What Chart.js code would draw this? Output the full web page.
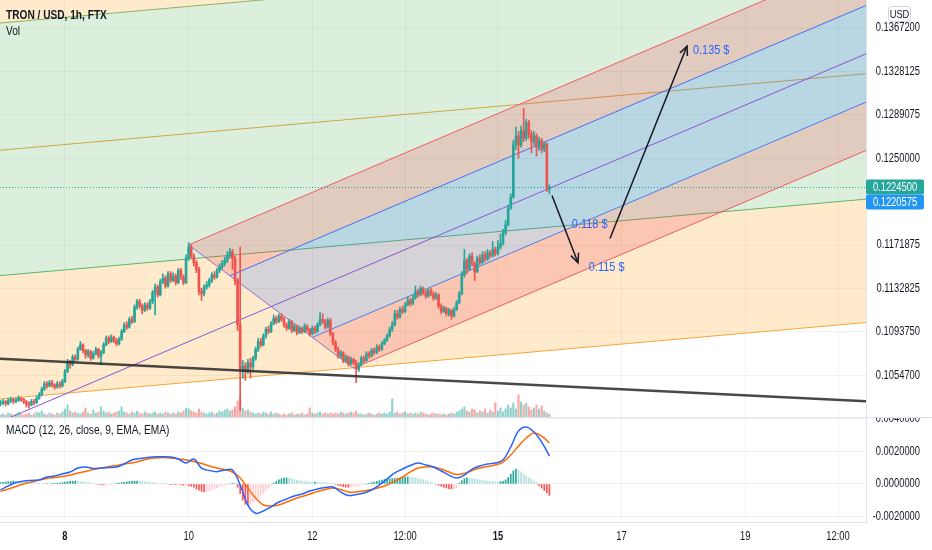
<!DOCTYPE html>
<html>
<head>
<meta charset="utf-8">
<script src="https://cdn.jsdelivr.net/npm/chart.js@4.4.1/dist/chart.umd.min.js"></script>
<style>
  html, body { margin: 0; padding: 0; background: #fff; }
  #wrap { position: relative; width: 932px; height: 550px; overflow: hidden; }
  #priceChart { position: absolute; left: 0; top: 0; }
  #macdChart { position: absolute; left: 0; top: 417px; }
</style>
</head>
<body>
<div id="wrap">
  <canvas id="priceChart" width="932" height="417"></canvas>
  <canvas id="macdChart" width="932" height="133"></canvas>
</div>
<script>
// ---- data: TRX/USD hourly candles, first bar is hour -25 (hour 0 = day 8, 00:00) ----
const START_HOUR = -25;
const firstOpen = 0.1029;
const closes = [
  0.1030,0.1031,0.1029,0.1032,0.1033,0.1031,0.1032,0.1034,0.1033,0.1031,
  0.1029,0.1028,0.1031,0.1030,0.1034,0.1037,0.1042,0.1047,0.1045,0.1048,
  0.1046,0.1044,0.1047,0.1045,0.1049,0.1058,0.1066,0.1064,0.1071,0.1069,
  0.1078,0.1082,0.1077,0.1073,0.1076,0.1070,0.1074,0.1078,0.1072,0.1075,
  0.1082,0.1088,0.1085,0.1089,0.1086,0.1083,0.1087,0.1094,0.1100,0.1098,
  0.1105,0.1103,0.1116,0.1121,0.1117,0.1113,0.1118,0.1115,0.1121,0.1129,
  0.1134,0.1127,0.1139,0.1142,0.1135,0.1146,0.1140,0.1144,0.1138,0.1149,
  0.1143,0.1138,0.1160,0.1170,0.1162,0.1156,0.1150,0.1130,0.1128,0.1134,
  0.1136,0.1140,0.1145,0.1143,0.1149,0.1152,0.1155,0.1158,0.1162,0.1166,
  0.1160,0.1140,0.1100,0.1060,0.1063,0.1058,0.1066,0.1062,0.1070,0.1078,
  0.1085,0.1082,0.1090,0.1096,0.1094,0.1101,0.1106,0.1103,0.1108,0.1105,
  0.1100,0.1097,0.1103,0.1095,0.1099,0.1093,0.1097,0.1094,0.1099,0.1096,
  0.1092,0.1097,0.1094,0.1100,0.1105,0.1103,0.1098,0.1104,0.1092,0.1084,
  0.1078,0.1072,0.1075,0.1068,0.1071,0.1065,0.1069,0.1066,0.1060,0.1064,
  0.1070,0.1068,0.1074,0.1072,0.1077,0.1075,0.1080,0.1078,0.1083,0.1086,
  0.1090,0.1096,0.1100,0.1110,0.1107,0.1114,0.1112,0.1118,0.1122,0.1119,
  0.1124,0.1130,0.1127,0.1133,0.1129,0.1126,0.1131,0.1128,0.1124,0.1127,
  0.1117,0.1112,0.1115,0.1110,0.1113,0.1108,0.1114,0.1120,0.1128,0.1145,
  0.1158,0.1150,0.1162,0.1155,0.1148,0.1160,0.1156,0.1163,0.1159,0.1165,
  0.1162,0.1168,0.1164,0.1170,0.1173,0.1183,0.1190,0.1205,0.1215,0.1262,
  0.1270,0.1262,0.1275,0.1268,0.1282,0.1272,0.1265,0.1270,0.1260,0.1266,
  0.1258,0.1263,0.1222,0.12245
];
const highs = [
  0.1032,0.1033,0.1032,0.1034,0.1035,0.1034,0.1034,0.1036,0.1035,0.1034,
  0.1032,0.1031,0.1033,0.1033,0.1036,0.1039,0.1044,0.1049,0.1049,0.1050,
  0.1050,0.1047,0.1049,0.1049,0.1051,0.1060,0.1069,0.1068,0.1073,0.1073,
  0.1080,0.1085,0.1083,0.1078,0.1078,0.1077,0.1076,0.1080,0.1079,0.1077,
  0.1084,0.1090,0.1090,0.1091,0.1090,0.1088,0.1089,0.1096,0.1102,0.1103,
  0.1107,0.1108,0.1118,0.1123,0.1123,0.1119,0.1120,0.1120,0.1123,0.1131,
  0.1137,0.1136,0.1141,0.1146,0.1144,0.1148,0.1148,0.1147,0.1146,0.1151,
  0.1151,0.1145,0.1163,0.1174,0.1172,0.1164,0.1158,0.1152,0.1133,0.1136,
  0.1139,0.1142,0.1147,0.1148,0.1151,0.1155,0.1158,0.1161,0.1166,0.1169,
  0.1168,0.1162,0.1142,0.1170,0.1068,0.1066,0.1069,0.1070,0.1072,0.1080,
  0.1088,0.1088,0.1092,0.1098,0.1099,0.1103,0.1109,0.1108,0.1110,0.1110,
  0.1107,0.1102,0.1105,0.1104,0.1101,0.1100,0.1099,0.1098,0.1101,0.1100,
  0.1097,0.1099,0.1099,0.1102,0.1111,0.1110,0.1105,0.1106,0.1106,0.1093,
  0.1086,0.1080,0.1077,0.1076,0.1073,0.1072,0.1071,0.1070,0.1068,0.1066,
  0.1072,0.1072,0.1076,0.1076,0.1079,0.1079,0.1082,0.1082,0.1085,0.1088,
  0.1092,0.1098,0.1103,0.1113,0.1113,0.1116,0.1117,0.1120,0.1125,0.1124,
  0.1127,0.1135,0.1132,0.1135,0.1134,0.1131,0.1133,0.1133,0.1130,0.1129,
  0.1128,0.1119,0.1117,0.1116,0.1115,0.1114,0.1116,0.1122,0.1130,0.1148,
  0.1168,0.1160,0.1164,0.1165,0.1157,0.1162,0.1163,0.1166,0.1166,0.1168,
  0.1167,0.1175,0.1170,0.1176,0.1182,0.1186,0.1194,0.1208,0.1218,0.1266,
  0.1278,0.1274,0.1279,0.1295,0.1285,0.1284,0.1275,0.1274,0.1272,0.1269,
  0.1268,0.1265,0.1264,0.1226
];
const lows = [
  0.1027,0.1028,0.1027,0.1028,0.1030,0.1029,0.1030,0.1031,0.1031,0.1029,
  0.1026,0.1025,0.1027,0.1028,0.1029,0.1033,0.1036,0.1041,0.1043,0.1044,
  0.1044,0.1042,0.1043,0.1043,0.1044,0.1048,0.1057,0.1061,0.1063,0.1067,
  0.1068,0.1077,0.1075,0.1070,0.1071,0.1068,0.1069,0.1073,0.1070,0.1064,
  0.1074,0.1081,0.1083,0.1084,0.1084,0.1081,0.1082,0.1086,0.1093,0.1096,
  0.1097,0.1101,0.1102,0.1114,0.1115,0.1110,0.1112,0.1113,0.1114,0.1119,
  0.1109,0.1125,0.1126,0.1137,0.1133,0.1134,0.1138,0.1139,0.1136,0.1137,
  0.1141,0.1136,0.1137,0.1158,0.1160,0.1153,0.1147,0.1127,0.1122,0.1126,
  0.1132,0.1134,0.1138,0.1141,0.1142,0.1147,0.1150,0.1153,0.1156,0.1160,
  0.1150,0.1136,0.1095,0.1023,0.1052,0.1050,0.1056,0.1052,0.1060,0.1068,
  0.1076,0.1080,0.1081,0.1088,0.1092,0.1093,0.1100,0.1101,0.1102,0.1103,
  0.1098,0.1095,0.1096,0.1093,0.1094,0.1091,0.1092,0.1092,0.1093,0.1094,
  0.1090,0.1091,0.1092,0.1093,0.1099,0.1101,0.1096,0.1097,0.1090,0.1082,
  0.1076,0.1070,0.1070,0.1066,0.1066,0.1063,0.1064,0.1064,0.1048,0.1058,
  0.1063,0.1066,0.1067,0.1070,0.1071,0.1073,0.1074,0.1076,0.1077,0.1082,
  0.1085,0.1089,0.1094,0.1099,0.1105,0.1106,0.1110,0.1111,0.1117,0.1117,
  0.1118,0.1123,0.1125,0.1126,0.1127,0.1124,0.1125,0.1126,0.1122,0.1123,
  0.1115,0.1110,0.1111,0.1108,0.1108,0.1105,0.1107,0.1113,0.1119,0.1127,
  0.1143,0.1146,0.1149,0.1153,0.1140,0.1147,0.1154,0.1155,0.1157,0.1158,
  0.1160,0.1161,0.1162,0.1163,0.1168,0.1172,0.1181,0.1189,0.1204,0.1214,
  0.1258,0.1250,0.1260,0.1265,0.1266,0.1268,0.1255,0.1262,0.1252,0.1257,
  0.1255,0.1256,0.1220,0.1218
];
// volume, millions TRX
const volumes = [
  2,3,2,4,3,2,3,5,3,2,  3,4,2,3,5,4,6,3,2,4,  3,2,4,3,5,8,12,6,4,5,
  4,3,5,9,4,3,7,4,5,10,  6,4,5,3,4,5,6,10,5,4,  3,5,4,6,4,3,5,4,3,4,
  5,3,4,3,5,4,3,4,3,5,  4,6,9,8,6,5,4,8,5,4,  3,4,5,3,4,6,5,7,8,6,
  7,10,16,20,9,6,7,5,4,3,  4,3,5,4,3,5,3,4,3,2,  3,2,3,4,2,3,3,4,2,3,
  9,4,3,4,5,3,4,3,4,3,  4,3,5,4,3,4,5,4,6,3,  3,2,3,4,3,2,3,4,3,4,
  3,5,18,4,5,3,4,5,3,4,  3,4,3,5,4,3,2,3,4,3,  3,2,3,2,3,4,3,5,6,8,
  10,6,5,8,7,4,6,5,8,4,  7,5,14,6,9,5,8,12,9,14,  8,22,15,12,14,10,7,9,12,8,
  11,6,4,3
];
// MACD (12, 26, 9), units of 1e-5; lines sampled every 3rd bar, histogram every bar
const MACD_UNIT = 1e-5;
const macdLine = [
  -37,-12,9,18,22,25,43,49,62,74, 98,105,95,98,101,105,123,148,157,163,
  168,168,166,154,129,154,98,83,76,86, 86,-6,-130,-180,-166,-141,-111,-92,-74,-62,
  -43,-31,-22,-18,-49,-71,-65,-55,-37,-6, 31,68,92,114,129,117,105,80,55,37,
  55,92,111,123,129,148,228,326,351,320, 258,172
];
const signalLine = [
  -46,-31,-15,0,12,25,34,40,46,55, 68,77,89,98,108,114,123,129,141,154,
  160,163,160,154,148,138,126,111,98,89, 74,37,-25,-86,-129,-135,-129,-111,-92,-77,
  -62,-46,-34,-25,-34,-49,-49,-43,-34,-22, -6,18,43,74,98,105,105,92,74,58,
  65,83,98,108,117,135,178,234,283,314, 295,252
];
const macdHist = [
  8,10,12,15,16,18,17,15,14,12,  12,10,9,8,6,5,4,3,3,2,  2,4,5,6,8,12,14,16,17,18,
  16,15,13,12,8,5,3,0,-3,-5,  -6,-4,-3,-2,-1,2,5,8,10,13,  15,17,18,18,17,15,13,12,10,9,
  8,4,3,2,1,0,-2,-3,-4,-4,  -6,-8,-7,-10,-14,-20,-30,-38,-45,-48,  -46,-42,-35,-28,-22,-16,-10,-6,-3,0,
  2,3,-20,-60,-100,-125,-130,-125,-115,-100,  -85,-70,-55,-40,-25,-10,5,15,25,32,  36,38,36,32,28,24,20,17,15,14,
  13,12,12,11,10,9,8,6,4,2,  -3,-8,-12,-16,-18,-20,-18,-16,-13,-10,  -7,-4,0,4,8,12,16,20,24,28,
  30,32,33,34,36,38,40,42,43,42,  40,37,33,29,25,20,15,10,5,-3,  -8,-14,-20,-25,-28,-30,-28,-22,5,20,
  32,38,36,33,30,27,25,22,20,18,  16,15,14,13,14,16,25,40,60,80,  92,86,75,62,50,38,28,18,10,-10,
  -25,-40,-55,-70
];
const priceTicks = [0.13672, 0.1328125, 0.1289075, 0.125, 0.1171875, 0.1132825, 0.109375, 0.10547];
const macdTicks = [-0.002, 0, 0.002, 0.004];
const xTickHours = [0, 48, 96, 132, 168, 216, 264, 300];
const xTickLabels = ['8', '10', '12', '12:00', '15', '17', '19', '12:00'];
const boldTickLabels = ['8', '15'];

// drawings, all in (hour, price)
const channelLevels = [0.13769, 0.12624, 0.11495, 0.10384]; // price at hour 0
const channelSlope = 0.0000205;                               // price per hour
const channelLabel = 0.1220575;
const pitchHandle = [-25, 0.1013];
const pitchTop = [48, 0.1172];
const pitchBottom = [112, 0.1061];
const pitchLevels = [0, 0.25, 0.5, 0.75, 1];
const trendLine = [[-25.2, 0.10694], [308.5, 0.10315]];
const arrows = [
  [[189, 0.12165], [199.1, 0.1156]],
  [[211.5, 0.11777], [241.4, 0.1351]]
];
const notes = [
  ['0.135 $', 243.7, 0.13474],
  ['0.118 $', 196.7, 0.11903],
  ['0.115 $', 203.3, 0.11515]
];

// ---- view ----
const X_MIN = -25.2, X_MAX = 310.85;
const Y_MIN = 0.101706, Y_MAX = 0.13925;
const M_MIN = -0.0023385, M_MAX = 0.0040615;
const FONT = "'Liberation Sans', Arial, sans-serif";
const NARROW = 0.78;   // the screenshot's text is horizontally squeezed
const TEXT = '#131722';
const GRID = 'rgba(42,46,57,0.06)';
const AXIS_LINE = '#e0e3eb';
const UP = '#26a69a', DOWN = '#ef5350';

Chart.defaults.font.family = FONT;
Chart.defaults.font.size = 12;
Chart.defaults.color = TEXT;

const opens = closes.map((c, i) => i === 0 ? firstOpen : closes[i - 1]);
const isUp = closes.map((c, i) => c >= opens[i]);
const hourOf = i => START_HOUR + i;

function narrowText(ctx, text, x, y, align, font, color, sx) {
  ctx.save();
  ctx.font = font;
  ctx.fillStyle = color;
  ctx.textAlign = align;
  ctx.textBaseline = 'middle';
  ctx.translate(x, y);
  ctx.scale(sx || NARROW, 1);
  ctx.fillText(text, 0, 0);
  ctx.restore();
}

function drawRightTicks(chart, scale) {
  const { ctx } = chart;
  ctx.save();
  ctx.beginPath();
  ctx.rect(scale.left, 0, scale.width, chart.height);
  ctx.clip();
  scale.ticks.forEach(t => {
    narrowText(ctx, t.value.toFixed(7), scale.left + 54, scale.getPixelForValue(t.value), 'right', `12px ${FONT}`, TEXT);
  });
  ctx.restore();
}

const priceDrawings = {
  id: 'priceDrawings',
  beforeDatasetsDraw(chart) {
    const { ctx, chartArea: a, scales: { x, y } } = chart;
    const px = h => x.getPixelForValue(h);
    const py = p => y.getPixelForValue(p);
    const h0 = X_MIN - 10, h1 = X_MAX + 10;
    ctx.save();
    ctx.beginPath();
    ctx.rect(a.left, a.top, a.right - a.left, a.bottom - a.top);
    ctx.clip();

    // parallel channel
    const chY = (lvl, h) => py(lvl + channelSlope * h);
    const band = (upper, lower, color) => {
      ctx.beginPath();
      if (upper === null) { ctx.moveTo(px(h0), a.top - 20); ctx.lineTo(px(h1), a.top - 20); }
      else { ctx.moveTo(px(h0), chY(upper, h0)); ctx.lineTo(px(h1), chY(upper, h1)); }
      ctx.lineTo(px(h1), chY(lower, h1));
      ctx.lineTo(px(h0), chY(lower, h0));
      ctx.closePath();
      ctx.fillStyle = color;
      ctx.fill();
    };
    band(null, channelLevels[0], 'rgba(255,152,0,0.2)');
    band(channelLevels[0], channelLevels[2], 'rgba(76,175,80,0.2)');
    band(channelLevels[2], channelLevels[3], 'rgba(255,152,0,0.2)');
    const chColors = ['#8db360', '#d2a443', '#5fb36a', '#f7a53a'];
    channelLevels.forEach((lvl, i) => {
      ctx.beginPath();
      ctx.moveTo(px(h0), chY(lvl, h0));
      ctx.lineTo(px(h1), chY(lvl, h1));
      ctx.strokeStyle = chColors[i];
      ctx.lineWidth = 1;
      ctx.stroke();
    });

    // pitchfork
    const mh = (pitchTop[0] + pitchBottom[0]) / 2, mp = (pitchTop[1] + pitchBottom[1]) / 2;
    const slope = (mp - pitchHandle[1]) / (mh - pitchHandle[0]);
    const start = t => [pitchTop[0] + t * (pitchBottom[0] - pitchTop[0]), pitchTop[1] + t * (pitchBottom[1] - pitchTop[1])];
    const endOf = t => { const s = start(t); return [h1, s[1] + slope * (h1 - s[0])]; };
    const fills = ['rgba(242,54,69,0.2)', 'rgba(45,115,255,0.2)', 'rgba(45,115,255,0.2)', 'rgba(242,54,69,0.2)'];
    for (let k = 0; k < pitchLevels.length - 1; k++) {
      const s1 = start(pitchLevels[k]), e1 = endOf(pitchLevels[k]);
      const s2 = start(pitchLevels[k + 1]), e2 = endOf(pitchLevels[k + 1]);
      ctx.beginPath();
      ctx.moveTo(px(s1[0]), py(s1[1]));
      ctx.lineTo(px(e1[0]), py(e1[1]));
      ctx.lineTo(px(e2[0]), py(e2[1]));
      ctx.lineTo(px(s2[0]), py(s2[1]));
      ctx.closePath();
      ctx.fillStyle = fills[k];
      ctx.fill();
    }
    const lvlColors = ['#ef5b66', '#4a6cf0', '#8c52d6', '#4a7cf0', '#ef5b66'];
    pitchLevels.forEach((t, k) => {
      const s = t === 0.5 ? pitchHandle : start(t), e = endOf(t);
      ctx.beginPath();
      ctx.moveTo(px(s[0]), py(s[1]));
      ctx.lineTo(px(e[0]), py(e[1]));
      ctx.strokeStyle = lvlColors[k];
      ctx.lineWidth = 1;
      ctx.stroke();
    });
    ctx.beginPath();
    ctx.moveTo(px(pitchTop[0]), py(pitchTop[1]));
    ctx.lineTo(px(pitchBottom[0]), py(pitchBottom[1]));
    ctx.strokeStyle = '#9070c8';
    ctx.stroke();
    ctx.restore();
  },
  afterDatasetsDraw(chart) {
    const { ctx, chartArea: a, scales: { x, y } } = chart;
    const px = h => x.getPixelForValue(h);
    const py = p => y.getPixelForValue(p);
    ctx.save();
    ctx.beginPath();
    ctx.rect(a.left, a.top, a.right - a.left, a.bottom - a.top);
    ctx.clip();

    // trend line
    const [p1, p2] = trendLine;
    const tSlope = (p2[1] - p1[1]) / (p2[0] - p1[0]);
    ctx.beginPath();
    ctx.moveTo(px(X_MIN - 5), py(p1[1] + tSlope * (X_MIN - 5 - p1[0])));
    ctx.lineTo(px(X_MAX + 5), py(p1[1] + tSlope * (X_MAX + 5 - p1[0])));
    ctx.strokeStyle = 'rgba(40,40,40,0.85)';
    ctx.lineWidth = 2.5;
    ctx.stroke();

    // last price line
    const last = closes[closes.length - 1];
    ctx.beginPath();
    ctx.setLineDash([1, 2]);
    ctx.moveTo(a.left, Math.round(py(last)) + 0.5);
    ctx.lineTo(a.right, Math.round(py(last)) + 0.5);
    ctx.strokeStyle = UP;
    ctx.lineWidth = 1;
    ctx.stroke();
    ctx.setLineDash([]);

    // arrows
    ctx.strokeStyle = '#131722';
    ctx.lineWidth = 1.5;
    arrows.forEach(([s, e]) => {
      const x1 = px(s[0]), y1 = py(s[1]), x2 = px(e[0]), y2 = py(e[1]);
      ctx.beginPath(); ctx.moveTo(x1, y1); ctx.lineTo(x2, y2); ctx.stroke();
      const ang = Math.atan2(y2 - y1, x2 - x1), L = 10, w = 0.42;
      ctx.beginPath();
      ctx.moveTo(x2 - L * Math.cos(ang - w), y2 - L * Math.sin(ang - w));
      ctx.lineTo(x2, y2);
      ctx.lineTo(x2 - L * Math.cos(ang + w), y2 - L * Math.sin(ang + w));
      ctx.stroke();
    });

    // notes
    notes.forEach(([txt, h, p]) => narrowText(ctx, txt, px(h), py(p), 'left', `13px ${FONT}`, '#2962ff', 0.84));
    ctx.restore();
  },
  afterDraw(chart) {
    const { ctx, chartArea: a, scales: { y } } = chart;
    drawRightTicks(chart, y);
    ctx.save();
    // titles
    narrowText(ctx, 'TRON / USD, 1h, FTX', 6, 15, 'left', `bold 13px ${FONT}`, TEXT);
    narrowText(ctx, 'Vol', 6, 31, 'left', `13px ${FONT}`, TEXT);

    // USD badge
    ctx.strokeStyle = '#d1d4dc';
    ctx.lineWidth = 1;
    ctx.beginPath();
    ctx.roundRect(888.5, 6.5, 22, 15, 3);
    ctx.fillStyle = '#fff';
    ctx.fill();
    ctx.stroke();
    narrowText(ctx, 'USD', 899.5, 14.5, 'center', `11px ${FONT}`, TEXT, 0.85);

    // price labels
    const last = closes[closes.length - 1];
    const ly = Math.round(y.getPixelForValue(last));
    const label = (val, cy, bg) => {
      ctx.fillStyle = bg;
      ctx.beginPath();
      ctx.roundRect(a.right, cy - 7.5, 58, 15, 2);
      ctx.fill();
      narrowText(ctx, val.toFixed(7), a.right + 29, cy + 0.5, 'center', `12px ${FONT}`, '#fff');
    };
    label(last, ly, UP);
    label(channelLabel, ly + 15, '#2196f3');
    ctx.restore();
  }
};

const macdDecor = {
  id: 'macdDecor',
  afterDraw(chart) {
    const { ctx, chartArea: a, scales: { x, y } } = chart;
    drawRightTicks(chart, y);
    x.ticks.forEach((t, i) => {
      const lbl = xTickLabels[i];
      const bold = boldTickLabels.includes(lbl) ? 'bold ' : '';
      narrowText(ctx, lbl, x.getPixelForValue(t.value), a.bottom + 15, 'center', `${bold}12px ${FONT}`, TEXT);
    });
    ctx.save();
    ctx.strokeStyle = AXIS_LINE;
    ctx.lineWidth = 1;
    ctx.beginPath();
    ctx.moveTo(0, 0.5);
    ctx.lineTo(chart.width, 0.5);
    ctx.stroke();
    ctx.restore();
    narrowText(ctx, 'MACD (12, 26, close, 9, EMA, EMA)', 6, 13, 'left', `13px ${FONT}`, TEXT);
  }
};

new Chart(document.getElementById('priceChart'), {
  type: 'bar',
  data: {
    datasets: [
      {
        label: 'bodies', order: 0, grouped: false,
        data: closes.map((c, i) => ({ x: hourOf(i), y: [opens[i], c] })),
        backgroundColor: isUp.map(u => u ? UP : DOWN),
        barThickness: 2, maxBarThickness: 2, minBarLength: 1
      },
      {
        label: 'wicks', order: 1, grouped: false,
        data: closes.map((c, i) => ({ x: hourOf(i), y: [lows[i], highs[i]] })),
        backgroundColor: isUp.map(u => u ? UP : DOWN),
        barThickness: 1, maxBarThickness: 1
      },
      {
        label: 'Vol', order: 2, grouped: false, yAxisID: 'yv',
        data: volumes.map((v, i) => ({ x: hourOf(i), y: v })),
        backgroundColor: isUp.map(u => u ? 'rgba(38,166,154,0.5)' : 'rgba(239,83,80,0.5)'),
        barThickness: 1.5, maxBarThickness: 1.5
      }
    ]
  },
  options: {
    responsive: false, animation: false, events: [], devicePixelRatio: 1,
    layout: { padding: 0 },
    plugins: { legend: { display: false }, tooltip: { enabled: false } },
    scales: {
      x: {
        type: 'linear', min: X_MIN, max: X_MAX, offset: false,
        afterBuildTicks: s => { s.ticks = xTickHours.map(v => ({ value: v })); },
        afterFit: s => { s.height = 0; s.paddingLeft = 0; s.paddingRight = 0; },
        ticks: { display: false },
        grid: { color: GRID, drawTicks: false, offset: false },
        border: { display: false }
      },
      y: {
        position: 'right', min: Y_MIN, max: Y_MAX,
        afterBuildTicks: s => { s.ticks = priceTicks.map(v => ({ value: v })); },
        afterFit: s => { s.width = 66; s.paddingTop = 0; s.paddingBottom = 0; },
        ticks: { display: false },
        grid: { color: GRID, drawTicks: false },
        border: { color: AXIS_LINE }
      },
      yv: { display: false, min: 0, max: 416 }
    }
  },
  plugins: [priceDrawings]
});

const histColors = macdHist.map((v, i) => {
  const prev = i === 0 ? v : macdHist[i - 1];
  if (v >= 0) return v >= prev ? '#26a69a' : '#b2dfdb';
  return v < prev ? '#ff5252' : '#ffcdd2';
});

new Chart(document.getElementById('macdChart'), {
  type: 'bar',
  data: {
    datasets: [
      {
        type: 'line', label: 'MACD', order: 0,
        data: macdLine.map((v, k) => ({ x: START_HOUR + 3 * k, y: v * MACD_UNIT })),
        borderColor: '#2962ff', borderWidth: 1.5, pointRadius: 0, tension: 0.35
      },
      {
        type: 'line', label: 'Signal', order: 1,
        data: signalLine.map((v, k) => ({ x: START_HOUR + 3 * k, y: v * MACD_UNIT })),
        borderColor: '#ff6d00', borderWidth: 1.5, pointRadius: 0, tension: 0.35
      },
      {
        label: 'Histogram', order: 2, grouped: false,
        data: macdHist.map((v, i) => ({ x: hourOf(i), y: v * MACD_UNIT })),
        backgroundColor: histColors,
        barThickness: 1, maxBarThickness: 1
      }
    ]
  },
  options: {
    responsive: false, animation: false, events: [], devicePixelRatio: 1,
    layout: { padding: { top: 1 } },
    plugins: { legend: { display: false }, tooltip: { enabled: false } },
    scales: {
      x: {
        type: 'linear', min: X_MIN, max: X_MAX, offset: false,
        afterBuildTicks: s => { s.ticks = xTickHours.map(v => ({ value: v })); },
        afterFit: s => { s.height = 28; s.paddingLeft = 0; s.paddingRight = 0; },
        ticks: { display: false },
        grid: { color: GRID, drawTicks: false, offset: false },
        border: { color: AXIS_LINE }
      },
      y: {
        position: 'right', min: M_MIN, max: M_MAX,
        afterBuildTicks: s => { s.ticks = macdTicks.map(v => ({ value: v })); },
        afterFit: s => { s.width = 66; s.paddingTop = 0; s.paddingBottom = 0; },
        ticks: { display: false },
        grid: { color: GRID, drawTicks: false },
        border: { color: AXIS_LINE }
      }
    }
  },
  plugins: [macdDecor]
});
</script>
</body>
</html>
